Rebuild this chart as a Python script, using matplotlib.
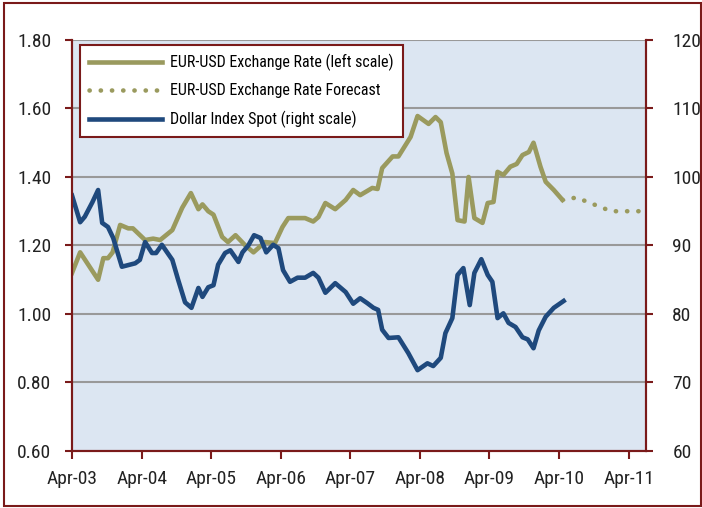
import matplotlib
matplotlib.use("Agg")
import matplotlib.pyplot as plt
from matplotlib.patches import Rectangle

plt.rcParams['font.family'] = ['Roboto Condensed', 'DejaVu Sans']
plt.rcParams['font.stretch'] = 'condensed'

# months since Apr-03
eur_month = [0, 1.4, 4.5, 5.4, 6.2, 7, 8.3, 9.7, 10.5, 12.6, 14, 15.2, 17.3, 19, 20.5,
             21.8, 22.5, 23.5, 24.4, 25.9, 26.9, 28.2, 29.9, 31.3, 33.3, 35, 36.3, 37.3,
             40.2, 41.6, 42.5, 43.7, 45.4, 47.2, 48.5, 49.7, 51.8, 52.7, 53.5, 55.3, 56.3,
             58.4, 59.6, 61.5, 62.7, 63.6, 64.6, 65.6, 66.5, 67.7, 68.4, 69.4, 70.8, 71.7,
             72.7, 73.4, 74.4, 75.6, 76.7, 77.7, 78.8, 79.6, 80.8, 81.7, 83.1, 84.6]
eur_rate = [1.12, 1.18, 1.10, 1.163, 1.163, 1.18, 1.26, 1.25, 1.25, 1.216, 1.22, 1.216,
            1.245, 1.31, 1.353, 1.306, 1.32, 1.30, 1.29, 1.225, 1.21, 1.23, 1.20, 1.18,
            1.21, 1.207, 1.254, 1.28, 1.28, 1.27, 1.283, 1.324, 1.306, 1.333, 1.362, 1.347,
            1.368, 1.365, 1.426, 1.46, 1.46, 1.517, 1.578, 1.555, 1.575, 1.56, 1.47, 1.41,
            1.274, 1.27, 1.40, 1.28, 1.266, 1.324, 1.327, 1.415, 1.406, 1.43, 1.438, 1.464,
            1.473, 1.50, 1.43, 1.386, 1.362, 1.333]

fc_month = [84.6, 87, 90, 93, 96, 98]
fc_rate = [1.333, 1.34, 1.32, 1.30, 1.30, 1.30]

usd_month = [0, 1.4, 2.2, 3.5, 4.5, 5.2, 6.2, 7.1, 8.6, 10.9, 11.7, 12.6, 13.8, 14.5, 15.5,
             17.3, 18.3, 19.5, 20.6, 21.8, 22.5, 23.5, 24.4, 25.2, 26.4, 27.3, 28.7, 29.4,
             30.4, 31.4, 32.5, 33.5, 34.7, 35.6, 36.4, 37.6, 38.9, 40.2, 41.6, 42.5, 43.7,
             45.4, 47.2, 48.5, 49.7, 50.9, 52.0, 52.8, 53.5, 54.6, 56.3, 58.0, 59.6, 61.3,
             62.3, 63.6, 64.4, 65.6, 66.5, 67.5, 68.6, 69.4, 70.6, 71.7, 72.5, 73.4, 74.4,
             75.3, 76.5, 77.7, 78.6, 79.6, 80.5, 81.7, 83.1, 84.8]
usd_index = [97.3, 93.4, 94.2, 96.3, 98.1, 93.3, 92.7, 91.1, 86.9, 87.4, 87.9, 90.5, 88.9,
             88.9, 90.1, 87.9, 85.0, 81.7, 80.9, 83.8, 82.5, 83.9, 84.2, 87.2, 88.9, 89.3,
             87.6, 89.0, 90.0, 91.5, 91.1, 89.0, 90.1, 89.6, 86.4, 84.7, 85.3, 85.3, 86.0,
             85.3, 83.1, 84.5, 83.2, 81.5, 82.3, 81.6, 80.9, 80.6, 77.7, 76.5, 76.6, 74.3,
             71.8, 72.8, 72.4, 73.6, 77.2, 79.4, 85.7, 86.7, 81.3, 86.0, 88.0, 85.7, 84.7,
             79.4, 80.1, 78.7, 78.1, 76.6, 76.3, 75.0, 77.6, 79.6, 80.9, 81.9]

tick_months = [0, 12, 24, 36, 48, 60, 72, 84, 96]
tick_labels = ['Apr-03', 'Apr-04', 'Apr-05', 'Apr-06', 'Apr-07', 'Apr-08', 'Apr-09',
               'Apr-10', 'Apr-11']
left_ticks = [0.60, 0.80, 1.00, 1.20, 1.40, 1.60, 1.80]
right_ticks = [60, 70, 80, 90, 100, 110, 120]

OLIVE = '#9a9a5e'
BLUE = '#1f497d'
RED = '#7a1a1a'
BG = '#dce6f2'

fig = plt.figure(figsize=(7.02, 5.08), dpi=100)
fig.patches.append(Rectangle((0.005, 0.003), 0.993, 0.991, transform=fig.transFigure,
                             fill=False, edgecolor=RED, linewidth=1.5))
ax = fig.add_axes([0.1026, 0.1122, 0.8176, 0.8091])
ax.set_facecolor(BG)
ax2 = ax.twinx()

l1, = ax.plot(eur_month, eur_rate, color=OLIVE, lw=3.3, solid_joinstyle='round',
              label='EUR-USD Exchange Rate (left scale)')
l2, = ax.plot(fc_month, fc_rate, color=OLIVE, lw=3.3, linestyle=(0, (0.05, 2.4)),
              dash_capstyle='round', label='EUR-USD Exchange Rate Forecast')
l3, = ax2.plot(usd_month, usd_index, color=BLUE, lw=3.3, solid_joinstyle='round',
               label='Dollar Index Spot (right scale)')

ax.set_xlim(0, 99)
ax.set_ylim(0.6, 1.8)
ax2.set_ylim(60, 120)
ax.set_xticks(tick_months)
ax.set_xticklabels(tick_labels)
ax.set_yticks(left_ticks)
ax.set_yticklabels([f'{v:.2f}' for v in left_ticks])
ax2.set_yticks(right_ticks)

ax.yaxis.grid(True, color='#999999', linewidth=1.5)
ax.set_axisbelow(True)

for a in (ax, ax2):
    a.spines['top'].set_visible(False)
    for s in ('left', 'right', 'bottom'):
        a.spines[s].set_color(RED)
        a.spines[s].set_linewidth(1.5)
    a.tick_params(colors=RED, labelcolor='#222222', labelsize=14, width=1.5, length=5)
ax.tick_params(axis='x', length=6, pad=8)
ax.tick_params(axis='y', pad=10)
ax2.tick_params(axis='y', pad=14)

leg = ax2.legend(handles=[l1, l2, l3], loc='upper left', bbox_to_anchor=(0.014, 0.988),
                 borderaxespad=0, fontsize=11.5, handlelength=4.6, handletextpad=0.5,
                 labelspacing=0.78, fancybox=False, framealpha=1, borderpad=0.55)
leg.get_frame().set_edgecolor(RED)
leg.get_frame().set_linewidth(1.5)

fig.savefig('out.png', dpi=100)
